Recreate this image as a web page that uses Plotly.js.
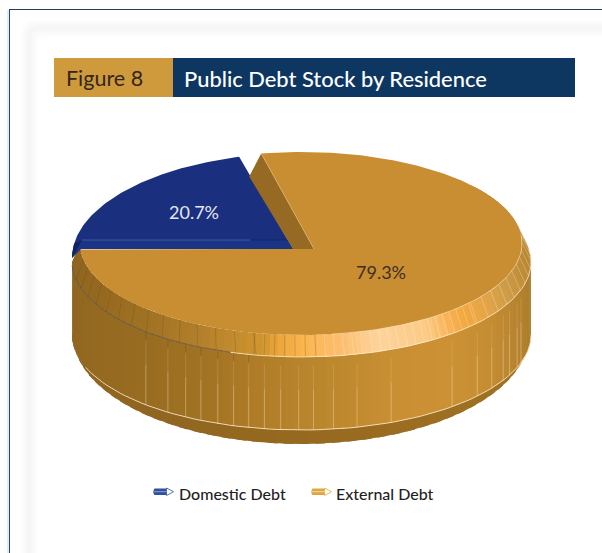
<!DOCTYPE html>
<html>
<head>
<meta charset="utf-8">
<script src="https://cdn.plot.ly/plotly-3.0.1.min.js"></script>
<style>html,body{margin:0;padding:0;background:#fff;overflow:hidden}</style>
</head>
<body>
<div id="chart" style="width:602px;height:553px"></div>
<script>
// Public debt stock by residence, share of total (%)
const categories = ['Domestic Debt', 'External Debt'];
const shares = [20.7, 79.3];
const figureLabel = 'Figure 8';
const figureTitle = 'Public Debt Stock by Residence';

// Ellipses of the extruded disc, in plot units (y grows downward)
const topFace  = {cx: 301, cy: 243.5, rx: 221, ry: 91.5};
const bluePlate = {cx: 300, cy: 258, rx: 228, ry: 105};
const rimEdge  = {cx: 301.5, cy: 262, rx: 229.5, ry: 95};
const wallFoot = {cx: 301.5, cy: 335, rx: 229.5, ry: 95};
const baseFoot = {cx: 301, cy: 335, rx: 228, ry: 109};
const extApex = [314, 249], domApex = [293, 249];
const cutY = 249, liftY = 240, explodeGapDeg = 8.8;
const extEndDeg = 176.3;

const rimShade = [[-40,'#c9923f'],[0,'#b98733'],[12,'#c08c38'],[25,'#cf9c48'],[35,'#e3a548'],[43,'#f2a83f'],[48,'#f7b04f'],[56,'#fbca85'],[70,'#fdd49c'],[80,'#fdbd6e'],[90,'#fbb54d'],[96,'#e9a53a'],[100,'#d0952f'],[115,'#b5812c'],[133,'#a07223'],[150,'#96691f'],[180,'#8e6520']];
const wallShade = [[0,'#a97a2a'],[21,'#b78430'],[35,'#c58d33'],[49,'#cc9134'],[67,'#c98f33'],[78,'#c08a2f'],[90,'#b8842c'],[103,'#ae7b27'],[116,'#a07223'],[133,'#986c21'],[180,'#8f6520']];
const baseShade = [[0,'#a27424'],[45,'#9d7022'],[90,'#96691f'],[135,'#8f6520'],[180,'#8f6520']];
const wallSeams = [132.7,125.6,120.3,116,111.4,107.2,103.3,99.3,95.2,90.7,87,82,76,67,49,40,34,28.5,25,20,17];

const rad = d => d * Math.PI / 180;
const onEllipse = (e, deg) => [e.cx + e.rx * Math.cos(rad(deg)), e.cy + e.ry * Math.sin(rad(deg))];
const arc = (e, from, to, step = 1) => {
  const pts = [], n = Math.max(1, Math.round(Math.abs(to - from) / step));
  for (let i = 0; i <= n; i++) pts.push(onEllipse(e, from + (to - from) * i / n));
  return pts;
};
const hex = c => [1, 3, 5].map(i => parseInt(c.substr(i, 2), 16));
const shadeAt = (stops, deg) => {
  if (deg <= stops[0][0]) return stops[0][1];
  for (let i = 1; i < stops.length; i++) {
    if (deg <= stops[i][0]) {
      const t = (deg - stops[i-1][0]) / (stops[i][0] - stops[i-1][0]);
      const a = hex(stops[i-1][1]), b = hex(stops[i][1]);
      return 'rgb(' + a.map((v, k) => Math.round(v + (b[k] - v) * t)).join(',') + ')';
    }
  }
  return stops[stops.length - 1][1];
};

const traces = [];
const poly = (pts, color) => traces.push({
  type: 'scatter', mode: 'lines', x: pts.map(p => p[0]), y: pts.map(p => p[1]),
  fill: 'toself', fillcolor: color, hoverinfo: 'skip', showlegend: false,
  line: {color: color, width: 0}
});
const strokes = (segments, color, width) => {
  const x = [], y = [];
  segments.forEach(s => { s.forEach(p => { x.push(p[0]); y.push(p[1]); }); x.push(null); y.push(null); });
  traces.push({type: 'scatter', mode: 'lines', x, y, hoverinfo: 'skip', showlegend: false,
    line: {color, width}});
};
// Facets overlap their neighbour slightly so no hairline shows between fills
const band = (a, b, from, to, step, stops) => {
  for (let d = from; d < to; d += step) {
    const e = Math.min(d + step, to), over = Math.min(e + step * 0.6, to);
    poly([onEllipse(a, d), onEllipse(a, over), onEllipse(b, over), onEllipse(b, d)], shadeAt(stops, (d + e) / 2));
  }
};

// Disc body, from the base lip up to the bevel
band(wallFoot, baseFoot, 0, 180, 4, baseShade);
band(rimEdge, wallFoot, 0, 180, 2, wallShade);
const seamPart = (from, to) => wallSeams.map(d => {
  const f = onEllipse(wallFoot, d), r = onEllipse(rimEdge, d), h = f[1] - r[1];
  return [[r[0], r[1] + h * from], [r[0], r[1] + h * to]];
});
strokes(seamPart(0.12, 0.45), 'rgba(255,232,196,0.16)', 1);
strokes(seamPart(0.45, 1), 'rgba(255,232,196,0.38)', 1);
strokes(wallSeams.filter(d => d > 100).map(d => {
  const r = onEllipse(rimEdge, d);
  return [r, [r[0], r[1] + 8]];
}), 'rgba(90,70,40,0.3)', 1);
strokes([arc(wallFoot, 0, 160, 2)], 'rgba(255,238,210,0.8)', 1);

band(topFace, rimEdge, -40, 180, 2, rimShade);
const darkRim = [], lightRim = [];
for (let d = 170; d > 102; d -= 5.2) darkRim.push([onEllipse(topFace, d), onEllipse(rimEdge, d - 1)]);
for (let d = 102; d > 84; d -= 2.6) darkRim.push([onEllipse(topFace, d), onEllipse(rimEdge, d)]);
for (let d = 84; d > 40; d -= 2.4) lightRim.push([onEllipse(topFace, d), onEllipse(rimEdge, d)]);
for (let d = 40; d > -25; d -= 4.5) lightRim.push([onEllipse(topFace, d), onEllipse(rimEdge, d)]);
strokes(darkRim, 'rgba(95,72,40,0.33)', 0.8);
strokes(lightRim, 'rgba(255,240,215,0.42)', 0.7);
strokes([arc(rimEdge, 108, 178, 2)], 'rgba(85,80,80,0.8)', 0.9);
strokes([arc(rimEdge, -8, 108, 2)], 'rgba(255,238,210,0.8)', 0.9);

// Domestic slice: sweep follows its share of the total
const domTip = -180 + shares[0] * 3.6;
const domArc = arc(bluePlate, domTip, -180);
const plateLeft = onEllipse(bluePlate, 180);
poly([domApex, ...domArc, [80, cutY]], '#1a307f');
poly([...arc(bluePlate, -172, -180), [82, liftY]], '#11225f');
poly([[82, liftY], [288, liftY], domApex, [81, cutY], plateLeft], '#1a3585');
strokes([[[82, liftY], [250, liftY]]], 'rgba(92,112,172,0.8)', 0.8);
strokes([[[250, liftY], [290, liftY]]], 'rgba(20,32,90,0.8)', 0.8);

// External slice: exploded from the domestic one by a small angular gap
const extStart = extEndDeg - (shares[1] * 3.6 - explodeGapDeg);
const extTip = onEllipse(topFace, extStart);
const wallTip = [extTip[0] - 12, extTip[1] + 23];
poly([extTip, extApex, domApex, wallTip], '#966a22');
poly([extApex, ...arc(topFace, extStart, extEndDeg)], '#c98d32');
strokes([[extTip, extApex]], 'rgba(240,205,150,0.55)', 0.7);
strokes([arc(topFace, -5, 82, 2)], 'rgba(255,232,196,0.6)', 0.8);

// Paper frame and its soft inner halo
const halo = ['#fdfdfd', '#fbfbfb', '#f8f8f8', '#f6f6f6', '#f6f6f6', '#f8f8f8', '#fafafa', '#fcfcfc', '#fefefe', '#ffffff'];
const roundedBox = (x0, y0, x1, y1, r) =>
  `M${x0 + r},${y0} H${x1 - r} Q${x1},${y0} ${x1},${y0 + r} V${y1 - r} Q${x1},${y1} ${x1 - r},${y1} H${x0 + r} Q${x0},${y1} ${x0},${y1 - r} V${y0 + r} Q${x0},${y0} ${x0 + r},${y0} Z`;
const shapes = halo.map((c, i) => ({
  type: 'path', path: roundedBox(21 + i * 2, 20 + i * 2, 700, 700, Math.max(2, 14 - i)),
  fillcolor: c, line: {width: 0}, layer: 'below'
}));
shapes.push(
  {type: 'line', x0: 8, x1: 8, y0: 10, y1: 553, line: {color: '#d6d6d6', width: 1}, layer: 'below'},
  {type: 'line', x0: 9.5, x1: 9.5, y0: 9, y1: 553, line: {color: '#1f4a7c', width: 1}, layer: 'below'},
  {type: 'line', x0: 9, x1: 602, y0: 9.5, y1: 9.5, line: {color: '#1f3f66', width: 1}, layer: 'below'},
  {type: 'rect', x0: 54, x1: 173, y0: 58, y1: 97, fillcolor: '#cf9a3c', line: {width: 0}, layer: 'below'},
  {type: 'rect', x0: 173, x1: 575, y0: 58, y1: 97, fillcolor: '#0d3661', line: {width: 0}, layer: 'below'}
);

// Pencil-shaped legend keys
const pencil = (x, body, stripe) => [
  {type: 'path', path: `M${x + 1},488.5 Q${x - 1.5},492 ${x + 1},495 H${x + 13} V488.5 Z`, fillcolor: body, line: {width: 0}},
  {type: 'path', path: `M${x + 13},488 L${x + 20},491.7 L${x + 13},495.5 Z`, fillcolor: '#ffffff', line: {color: body, width: 0.8}},
  {type: 'line', x0: x, x1: x + 13, y0: 491.7, y1: 491.7, line: {color: stripe, width: 1}}
];
shapes.push(...pencil(153.5, '#2f4f9f', '#8fa3d2'), ...pencil(311.5, '#dfa640', '#f3d9a3'));

const face = 'Lato, Open Sans, sans-serif';
const note = (text, x, y, size, color, anchor, weight) => ({
  text, x, y, xref: 'x', yref: 'y', showarrow: false, xanchor: anchor, yanchor: 'middle',
  font: {family: face, size, color, weight: weight || 400}
});
const annotations = [
  note(figureLabel, 64, 78, 21.5, '#33261a', 'left'),
  note(figureTitle, 182, 78, 21.9, '#ffffff', 'left', 500),
  note(shares[0].toFixed(1) + '%', 194, 212, 18, '#e4e7f2', 'center'),
  note(shares[1].toFixed(1) + '%', 381, 272, 18, '#3d3020', 'center'),
  note(categories[0], 176.5, 493, 16, '#1f1f1f', 'left', 500),
  note(categories[1], 333.5, 493, 16, '#1f1f1f', 'left', 500)
];

Plotly.newPlot('chart', traces, {
  width: 602, height: 553, margin: {l: 0, r: 0, t: 0, b: 0},
  paper_bgcolor: '#ffffff', plot_bgcolor: 'rgba(0,0,0,0)', showlegend: false,
  xaxis: {range: [0, 602], visible: false, fixedrange: true},
  yaxis: {range: [553, 0], visible: false, fixedrange: true},
  shapes, annotations
}, {displayModeBar: false, staticPlot: true});
</script>
</body>
</html>
